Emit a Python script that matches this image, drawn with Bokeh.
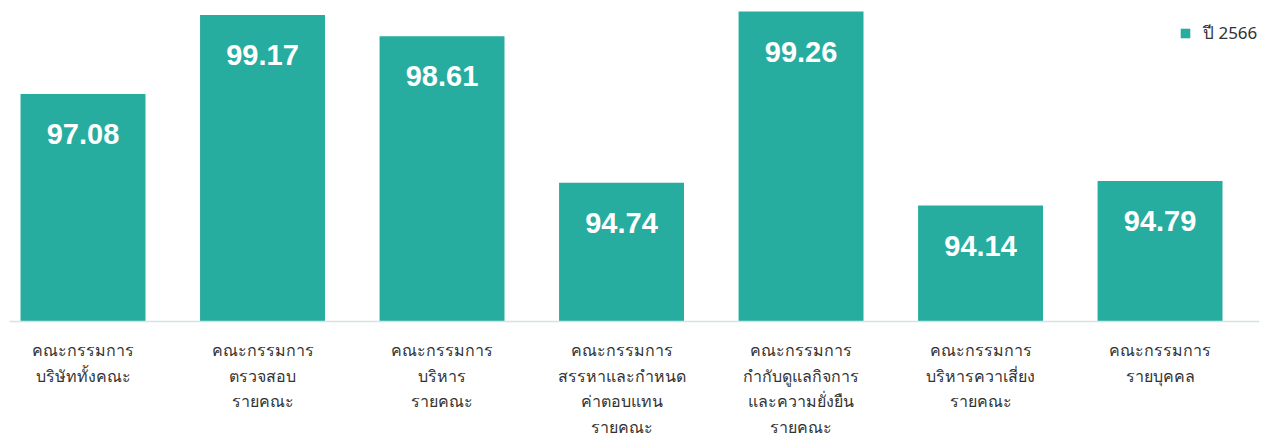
from bokeh.plotting import figure
from bokeh.models import ColumnDataSource, Range1d, Legend, LegendItem, Span
from bokeh.core.properties import value
from bokeh.embed import file_html
from bokeh.resources import INLINE

categories = [
    "คณะกรรมการ\nบริษัททั้งคณะ",
    "คณะกรรมการ\nตรวจสอบ\nรายคณะ",
    "คณะกรรมการ\nบริหาร\nรายคณะ",
    "คณะกรรมการ\nสรรหาและกำหนด\nค่าตอบแทน\nรายคณะ",
    "คณะกรรมการ\nกำกับดูแลกิจการ\nและความยั่งยืน\nรายคณะ",
    "คณะกรรมการ\nบริหารควาเสี่ยง\nรายคณะ",
    "คณะกรรมการ\nรายบุคคล",
]
values = [97.08, 99.17, 98.61, 94.74, 99.26, 94.14, 94.79]
series_name = "ปี 2566"
value_labels = ["%.2f" % v for v in values]

BAR = "#27ad9f"
BASE = 91.08

idx = list(range(len(categories)))
src = ColumnDataSource(dict(x=idx, top=values, lab=value_labels))

p = figure(width=1262, height=438, output_backend="svg", toolbar_location=None,
           x_range=Range1d(-0.4095, 6.554), y_range=Range1d(87.99, 99.34),
           min_border=0)
p.min_border_left = 9
p.min_border_right = 3
p.min_border_top = 8
p.min_border_bottom = 0
p.axis.visible = False
p.grid.visible = False
p.outline_line_color = None
p.background_fill_color = "white"

bars = p.vbar(x="x", top="top", bottom=BASE, width=0.696, source=src,
              fill_color=BAR, line_color=None)

p.add_layout(Span(location=BASE, dimension="width", line_color="#d3e4e2", line_width=1.5))

p.text(x="x", y="top", text="lab", source=src, y_offset=40,
       text_align="center", text_baseline="middle", text_color="white",
       text_font=value("Liberation Sans"), text_font_style="bold",
       text_font_size="29px")

lx, ly, lt, lo = [], [], [], []
for i, c in enumerate(categories):
    for j, line in enumerate(c.split("\n")):
        lx.append(i)
        ly.append(BASE)
        lt.append(line)
        lo.append(29 + 25.5 * j)
lsrc = ColumnDataSource(dict(x=lx, y=ly, t=lt, o=lo))
p.text(x="x", y="y", text="t", y_offset="o", source=lsrc,
       text_align="center", text_baseline="alphabetic", text_color="#333333",
       text_font=value("Noto Sans"), text_font_size="16px")

legend = Legend(items=[LegendItem(label=series_name, renderers=[bars])],
                location=(1170, 392), orientation="vertical",
                glyph_width=12, glyph_height=12, label_height=12,
                label_standoff=12, padding=0, margin=0,
                border_line_alpha=0, background_fill_alpha=0,
                label_text_font="Noto Sans", label_text_font_size="17px",
                label_text_color="#333333")
p.add_layout(legend)

open("out.html", "w").write(file_html(p, INLINE))
